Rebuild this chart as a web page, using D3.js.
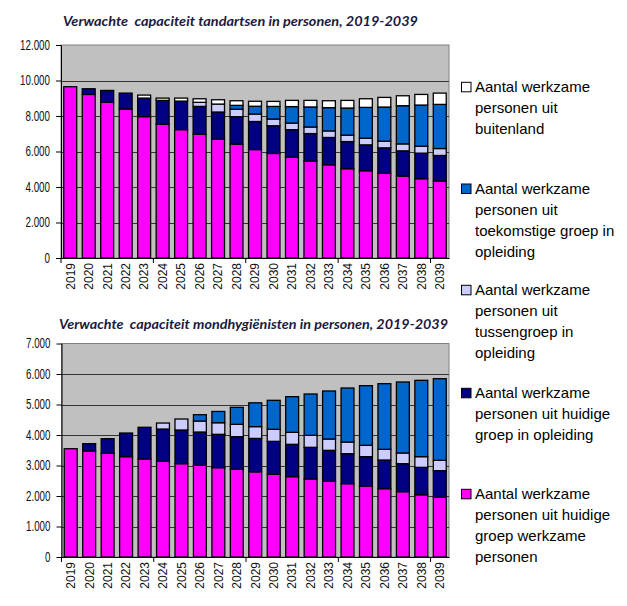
<!DOCTYPE html>
<html><head><meta charset="utf-8">
<script src="https://cdn.jsdelivr.net/npm/d3@7"></script>
<style>
html,body{margin:0;padding:0;background:#fff;}
svg{display:block;}
</style></head>
<body>
<script>
// ---- data ----
const years = ["2019","2020","2021","2022","2023","2024","2025","2026","2027","2028","2029","2030","2031","2032","2033","2034","2035","2036","2037","2038","2039"];

// Tandartsen (dentists)
const tandHuidigWerkzaam  = [9650,9215,8785,8390,7963,7533,7234,6972,6692,6411,6110,5890,5680,5460,5250,5030,4916,4767,4617,4468,4337];
const tandHuidigOpleiding = [0,320,655,900,1047,1347,1606,1568,1532,1549,1580,1560,1550,1550,1540,1530,1458,1439,1420,1439,1439];
const tandTussengroep     = [0,0,0,0,0,0,0,230,449,420,420,380,370,370,370,360,374,374,393,392,392];
const tandToekomstig      = [0,0,0,0,0,0,0,0,0,220,440,710,930,1130,1310,1530,1738,1925,2150,2318,2486];
const tandBuitenland      = [0,0,0,0,168,129,169,200,243,260,280,282,350,370,390,428,486,542,560,598,636];

// Mondhygiënisten (dental hygienists)
const mondHuidigWerkzaam  = [3550,3475,3399,3290,3213,3136,3060,3005,2929,2874,2793,2710,2634,2557,2481,2404,2328,2240,2142,2040,1960];
const mondHuidigOpleiding = [0,240,480,775,1040,1060,1104,1093,1093,1071,1095,1082,1060,1039,1016,984,962,940,918,900,870];
const mondTussengroep     = [0,0,0,0,0,196,360,360,380,405,387,394,393,393,372,382,371,350,350,350,339];
const mondToekomstig      = [0,0,0,0,0,0,0,208,370,557,780,951,1170,1355,1574,1771,1957,2153,2328,2502,2678];
const mondBuitenland      = [0,0,0,0,0,0,0,0,0,0,0,0,0,0,0,0,0,0,0,0,0];

const tandTicks = [0,2000,4000,6000,8000,10000,12000];
const mondTicks = [0,1000,2000,3000,4000,5000,6000,7000];

const titleTand = "Verwachte  capaciteit tandartsen in personen, 2019-2039";
const titleMond = "Verwachte  capaciteit mondhygiënisten in personen, 2019-2039";

const seriesKeys = ["huidigWerkzaam","huidigOpleiding","tussengroep","toekomstig","buitenland"];
const seriesColors = ["#FF00FF","#000080","#CCCCFF","#0066CC","#FFFFFF"];
const legendOrder = ["buitenland","toekomstig","tussengroep","huidigOpleiding","huidigWerkzaam"];
const legendLabels = [
  ["Aantal werkzame","personen uit","buitenland"],
  ["Aantal werkzame","personen uit","toekomstige groep in","opleiding"],
  ["Aantal werkzame","personen uit","tussengroep in","opleiding"],
  ["Aantal werkzame","personen uit huidige","groep in opleiding"],
  ["Aantal werkzame","personen uit huidige","groep werkzame","personen"]
];

// ---- drawing ----
const W = 627, H = 606;
const svg = d3.select("body").append("svg").attr("width", W).attr("height", H)
  .style("font-family", "'Liberation Sans', Arial, sans-serif");

const nl = d3.formatLocale({decimal:",", thousands:".", grouping:[3], currency:["",""]});
const fmt = nl.format(",");
const color = d3.scaleOrdinal().domain(seriesKeys).range(seriesColors);

function buildRows(arrs){
  return years.map((yr,i)=>{
    const r = {year: yr};
    seriesKeys.forEach((k,j)=> r[k] = arrs[j][i]);
    return r;
  });
}

function drawChart(opts){
  const {left, right, top, bottom, maxV, ticks, arrs, title, titleX, titleY, titleW} = opts;
  const g = svg.append("g");
  const x = d3.scaleBand().domain(years).range([left, right]).paddingInner(0.3).paddingOuter(0.15);
  const y = d3.scaleLinear().domain([0, maxV]).range([bottom, top]);

  // plot area
  g.append("rect").attr("x", left).attr("y", top).attr("width", right-left).attr("height", bottom-top)
    .attr("fill", "#C0C0C0").attr("stroke", "#808080").attr("stroke-width", 1);

  // gridlines
  g.append("g").selectAll("line").data(ticks.filter(t=>t>0 && t<maxV)).join("line")
    .attr("x1", left).attr("x2", right)
    .attr("y1", d=>Math.round(y(d))+0.5).attr("y2", d=>Math.round(y(d))+0.5)
    .attr("stroke", "#333").attr("stroke-width", 1);

  // stacked bars
  const rows = buildRows(arrs);
  const stack = d3.stack().keys(seriesKeys)(rows);
  g.append("g").selectAll("g").data(stack).join("g")
    .attr("fill", d=>color(d.key))
    .selectAll("rect").data(d=>d.filter(s=>s[1]-s[0]>0)).join("rect")
    .attr("x", d=>x(d.data.year))
    .attr("width", x.bandwidth())
    .attr("y", d=>y(d[1]))
    .attr("height", d=>y(d[0])-y(d[1]))
    .attr("stroke", "#000").attr("stroke-width", 1.3);

  // y axis
  const ya = g.append("g").attr("transform", `translate(${left},0)`)
    .call(d3.axisLeft(y).tickValues(ticks).tickSize(5).tickSizeOuter(0).tickFormat(fmt));
  ya.select(".domain").attr("stroke", "#000");
  ya.selectAll(".tick line").attr("stroke", "#000");
  ya.selectAll(".tick text").attr("font-size", 14).attr("fill", "#111")
    .attr("font-family", "'Liberation Sans', Arial, sans-serif")
    .attr("x", -15.7).attr("transform", "scale(0.7,1)");

  // x axis
  const xa = g.append("g").attr("transform", `translate(0,${bottom})`)
    .call(d3.axisBottom(x).tickSize(0).tickSizeOuter(0));
  xa.select(".domain").attr("stroke", "#000");
  xa.selectAll(".tick text").attr("font-size", 12).attr("fill", "#111")
    .attr("font-family", "'Liberation Sans', Arial, sans-serif")
    .attr("transform", "rotate(-90)").attr("text-anchor", "end")
    .attr("x", -5).attr("y", 0).attr("dy", "0.36em");
  // category tick marks every 5 categories
  const step = x.step();
  const tickIdx = [0,5,10,15,20];
  g.append("g").selectAll("line").data(tickIdx).join("line")
    .attr("x1", i=>left + i*step).attr("x2", i=>left + i*step)
    .attr("y1", bottom).attr("y2", bottom+5)
    .attr("stroke", "#000").attr("stroke-width", 1);

  // title
  g.append("text").attr("x", titleX).attr("y", titleY)
    .attr("font-family", "Lato, 'Open Sans', sans-serif")
    .attr("font-weight", "bold").attr("font-style", "italic")
    .attr("font-size", 13).attr("fill", "#1a1a40")
    .attr("textLength", titleW).attr("lengthAdjust", "spacingAndGlyphs")
    .style("white-space", "pre")
    .text(title);
}

drawChart({left:61, right:449, top:45, bottom:258, maxV:12000, ticks:tandTicks,
  arrs:[tandHuidigWerkzaam,tandHuidigOpleiding,tandTussengroep,tandToekomstig,tandBuitenland],
  title:titleTand, titleX:63, titleY:25.5, titleW:355});
drawChart({left:61.5, right:449, top:343.5, bottom:557, maxV:7000, ticks:mondTicks,
  arrs:[mondHuidigWerkzaam,mondHuidigOpleiding,mondTussengroep,mondToekomstig,mondBuitenland],
  title:titleMond, titleX:59, titleY:329, titleW:389});

// legend
const legendBaselines = [92.3, 194, 295.3, 398.3, 499.3];
const lg = svg.append("g");
legendOrder.forEach((k,i)=>{
  const by = legendBaselines[i];
  lg.append("rect").attr("x", 461.5).attr("y", by-10).attr("width", 9.5).attr("height", 9.5)
    .attr("fill", color(k)).attr("stroke", "#000").attr("stroke-width", 1);
  const t = lg.append("text").attr("x", 475).attr("y", by)
    .attr("font-size", 15).attr("fill", "#000");
  legendLabels[i].forEach((line,j)=>{
    t.append("tspan").attr("x", 475).attr("y", by + j*21).text(line);
  });
});
</script>
</body></html>
